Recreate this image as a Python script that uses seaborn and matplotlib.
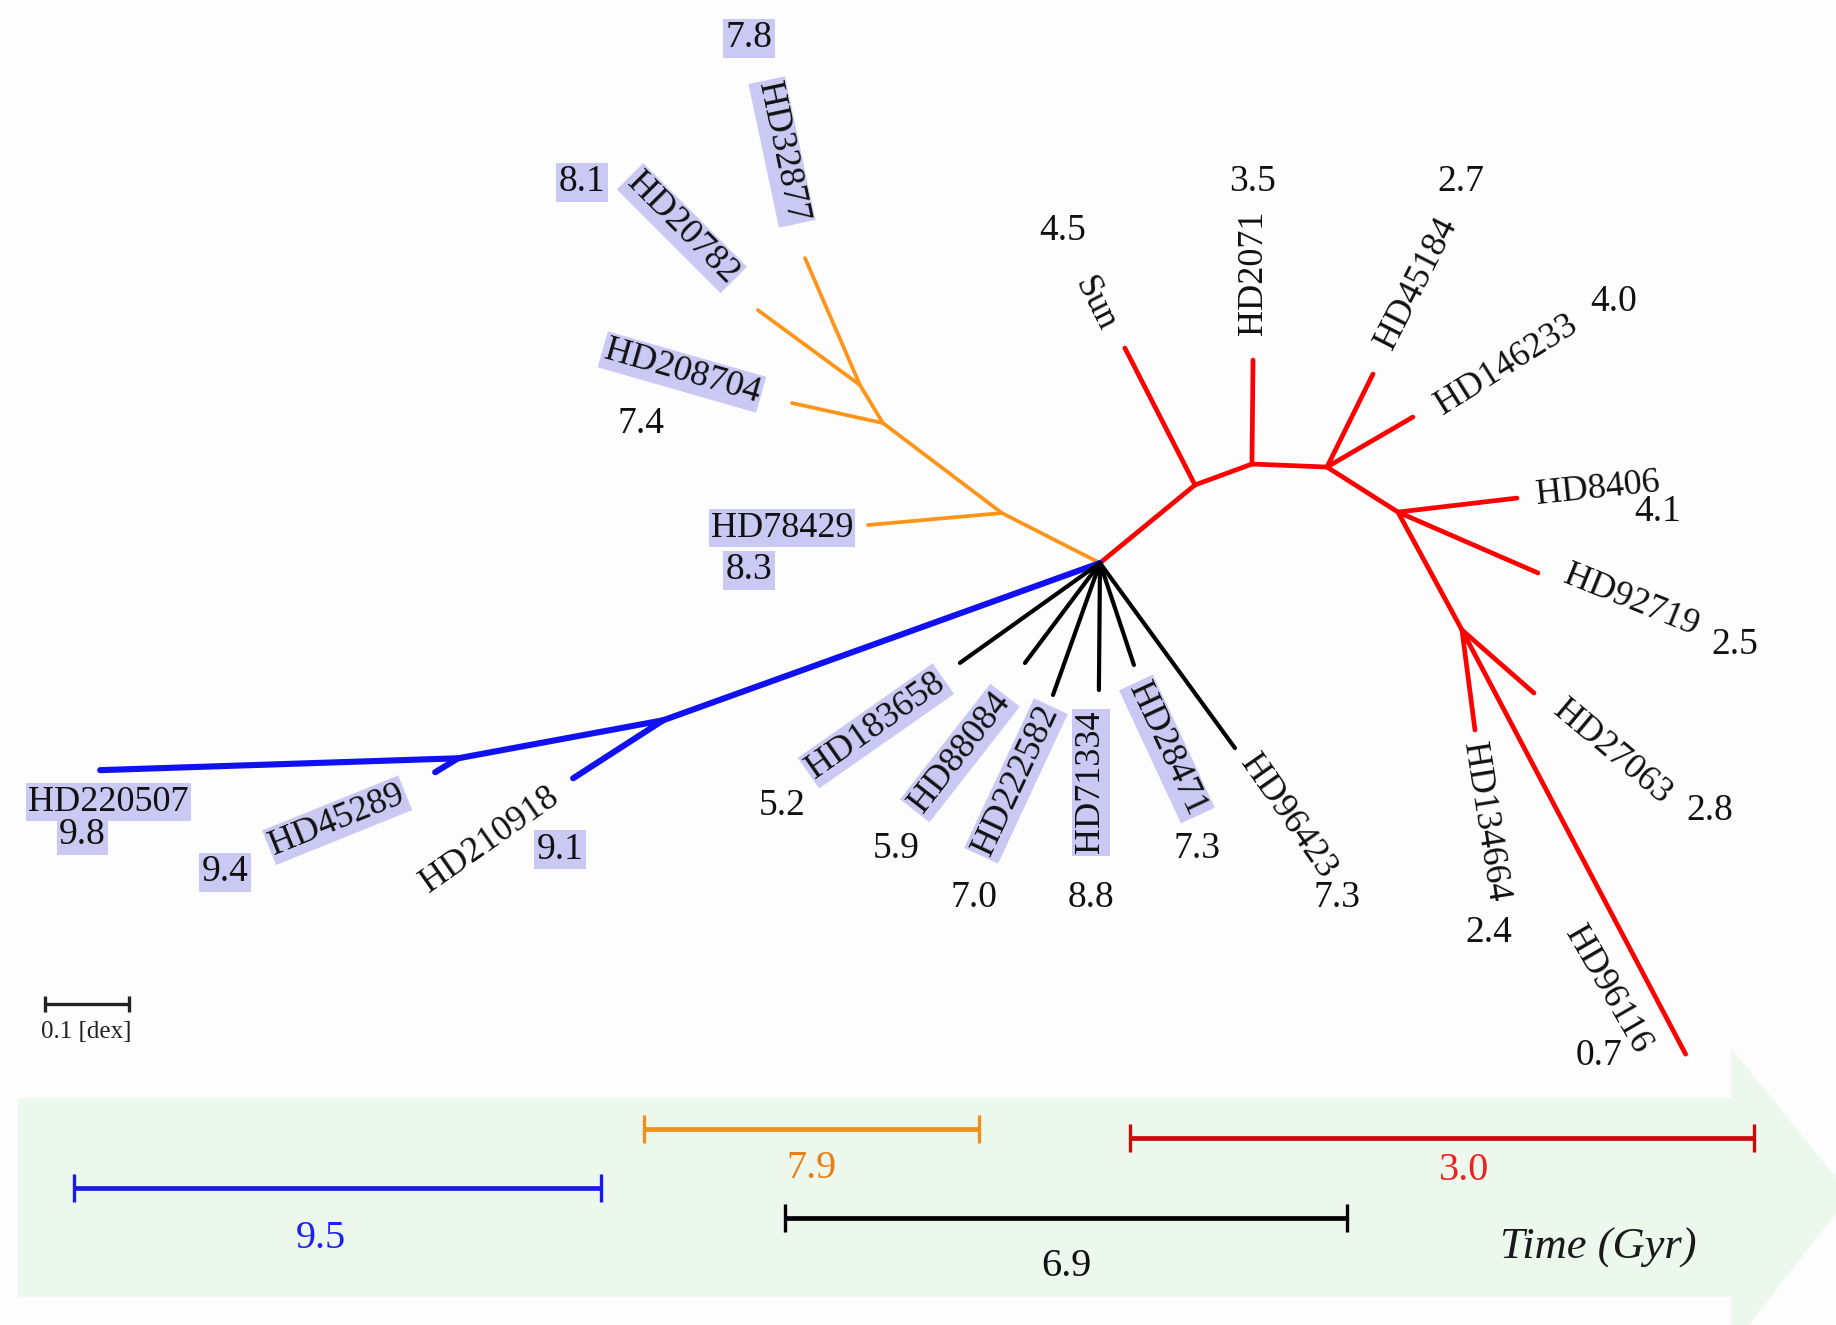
import numpy as np
import pandas as pd
import matplotlib
matplotlib.use("Agg")
import matplotlib.pyplot as plt
import seaborn as sns
from matplotlib.patches import Polygon

# ---------------------------------------------------------------------------
# Unrooted tree: each edge = parent, child, branch length [dex], direction [deg]
# ---------------------------------------------------------------------------
edge_parent = ["root", "o1", "o1", "o2", "o2", "o3", "o3",
               "root", "r1", "r1", "r2", "r2", "r3", "r3", "r3", "r4", "r4", "r4",
               "r5", "r5", "r5",
               "root", "b1", "b1", "b2", "b2",
               "root", "root", "root", "root", "root", "root"]
edge_child = ["o1", "HD78429", "o2", "HD208704", "o3", "HD20782", "HD32877",
              "r1", "Sun", "r2", "HD2071", "r3", "HD45184", "HD146233", "r4",
              "HD8406", "HD92719", "r5",
              "HD134664", "HD27063", "HD96116",
              "b1", "HD210918", "b2", "HD45289", "HD220507",
              "HD183658", "HD88084", "HD222582", "HD71334", "HD28471", "HD96423"]
edge_length = [0.1305, 0.1596, 0.1770, 0.1105, 0.0527, 0.1502, 0.1642,
               0.1458, 0.1825, 0.0720, 0.1234, 0.0891, 0.1231, 0.1180, 0.0997,
               0.1421, 0.1811, 0.1592,
               0.1196, 0.1135, 0.5688,
               0.5508, 0.1270, 0.2473, 0.0319, 0.4249,
               0.2041, 0.1483, 0.1662, 0.1507, 0.1275, 0.2717]
edge_angle = [153.0, -174.9, 142.9, 167.6, 121.2, 143.7, 113.4,
              39.4, 117.1, 20.2, 89.4, -2.3, 63.7, 30.2, -32.4,
              6.7, -23.5, -61.5,
              -82.6, -41.2, -62.2,
              -160.2, -147.2, -169.5, -148.7, -178.1,
              -144.5, -126.9, -109.6, -90.5, -71.6, -53.9]
edge_clade = (["old"] * 7 + ["young"] * 14 + ["oldest"] * 5 + ["mixed"] * 6)

# Leaves: stellar ages [Gyr]
leaf_names = ["HD32877", "HD20782", "HD208704", "HD78429",
              "Sun", "HD2071", "HD45184", "HD146233", "HD8406", "HD92719",
              "HD27063", "HD134664", "HD96116",
              "HD96423", "HD28471", "HD71334", "HD222582", "HD88084", "HD183658",
              "HD210918", "HD45289", "HD220507"]
leaf_ages = ["7.8", "8.1", "7.4", "8.3",
             "4.5", "3.5", "2.7", "4.0", "4.1", "2.5",
             "2.8", "2.4", "0.7",
             "7.3", "7.3", "8.8", "7.0", "5.9", "5.2",
             "9.1", "9.4", "9.8"]
name_marked = [True, True, True, True,
               False, False, False, False, False, False,
               False, False, False,
               False, True, True, True, True, True,
               False, True, True]
age_marked = [True, True, False, True,
              False, False, False, False, False, False,
              False, False, False,
              False, False, False, False, False, False,
              True, True, True]

# Mean age of each group along the time arrow
group_keys = ["oldest", "old", "young", "mixed"]
group_mean_age = ["9.5", "7.9", "3.0", "6.9"]
span_from = [74, 644, 1130, 785]
span_to = [601, 979, 1754, 1347]

# ---------------------------------------------------------------------------
# Layout / style
# ---------------------------------------------------------------------------
W, H = 1836, 1325
PX_PER_DEX = 843.0
ROOT_PX = (1100.0, 563.0)

clade_color = {"old": "#ff9418", "young": "#ff0000",
               "oldest": "#1010f0", "mixed": "#000000"}
clade_width = {"old": 2.7, "young": 3.4, "oldest": 4.4, "mixed": 3.0}
span_color = {"oldest": "#1a1aee", "old": "#f0901c",
              "young": "#cc0a0a", "mixed": "#000000"}
span_text_color = {"oldest": "#2020ee", "old": "#e8801a",
                   "young": "#ee2020", "mixed": "#111111"}
span_row = {"oldest": 1188, "old": 1129, "young": 1138, "mixed": 1218}
span_text_dx = {"oldest": -17, "old": 0, "young": 22, "mixed": 0}
span_text_dy = {"oldest": 50, "old": 40, "young": 32, "mixed": 49}

# name label: (dx, dy, rotation), age label: (dx, dy) relative to leaf tip [px]
label_layout = {
    "HD32877": (-23, -106, -78, -56, -220),
    "HD20782": (-76, -82, -45, -176, -128),
    "HD208704": (-110, -31, -16, -151, 21),
    "HD78429": (-86, 3, 0, -119, 45),
    "Sun": (-30, -44, -63, -62, -117),
    "HD2071": (0, -87, 90, 0, -178),
    "HD45184": (44, -90, 63, 88, -192),
    "HD146233": (94, -52, 32, 201, -115),
    "HD8406": (81, -9, 6, 141, 14),
    "HD92719": (93, 28, -22, 197, 72),
    "HD27063": (78, 59, -40, 176, 118),
    "HD134664": (10, 92, -81, 14, 203),
    "HD96116": (-78, -64, -60, -87, 2),
    "HD96423": (53, 68, -55, 102, 150),
    "HD28471": (33, 84, -65, 63, 184),
    "HD71334": (-8, 92, 90, -8, 208),
    "HD222582": (-37, 86, 65, -79, 203),
    "HD88084": (-65, 90, 52, -129, 186),
    "HD183658": (-84, 63, 35, -178, 143),
    "HD210918": (-83, 62, 35, -13, 71),
    "HD45289": (-98, 48, 22, -210, 100),
    "HD220507": (8, 32, 0, -18, 65),
}

sns.set_theme(style="white")
plt.rcParams["font.family"] = ["Liberation Serif", "DejaVu Serif"]

fig = plt.figure(figsize=(W / 100, H / 100), dpi=100)
fig.patch.set_facecolor("#fdfdfd")
ax = fig.add_axes([0, 0, 1, 1])
ax.set_facecolor("#fdfdfd")

# ---- time arrow in the background ----
arrow = Polygon([(18, 1098), (1731, 1098), (1731, 1048), (1850, 1195),
                 (1731, 1348), (1731, 1297), (18, 1297)],
                closed=True, facecolor="#edf8ec", edgecolor="none", zorder=0)
ax.add_patch(arrow)

# ---- node positions from branch lengths / angles ----
pos = {"root": (0.0, 0.0)}
for p, c, L, a in zip(edge_parent, edge_child, edge_length, edge_angle):
    x0, y0 = pos[p]
    t = np.deg2rad(a)
    pos[c] = (x0 + L * np.cos(t), y0 + L * np.sin(t))


def to_px(pt):
    return ROOT_PX[0] + pt[0] * PX_PER_DEX, ROOT_PX[1] - pt[1] * PX_PER_DEX


rows = []
for i, (p, c, cl) in enumerate(zip(edge_parent, edge_child, edge_clade)):
    for node in (p, c):
        x, y = to_px(pos[node])
        rows.append({"x": x, "y": y, "edge": i, "clade": cl})
edges = pd.DataFrame(rows)

sns.lineplot(data=edges, x="x", y="y", units="edge", estimator=None,
             hue="clade", palette=clade_color, size="clade", sizes=clade_width,
             sort=False, legend=False, ax=ax, zorder=3)
for line in ax.get_lines():
    line.set_solid_capstyle("round")

# ---- leaf labels ----
mark_box = dict(boxstyle="square,pad=0.06", facecolor="#c9c9f3", edgecolor="none")
for name, age, nm, am in zip(leaf_names, leaf_ages, name_marked, age_marked):
    tx, ty = to_px(pos[name])
    ndx, ndy, rot, adx, ady = label_layout[name]
    ax.text(tx + ndx, ty + ndy, name, fontsize=26, rotation=rot,
            rotation_mode="anchor", ha="center", va="center", color="#111111",
            bbox=mark_box if nm else None, zorder=4)
    ax.text(tx + adx, ty + ady, age, fontsize=27, ha="center", va="center",
            color="#111111", bbox=mark_box if am else None, zorder=4)

# ---- scale bar ----
sb_x0, sb_y = 44.5, 1003.5
ax.errorbar([sb_x0 + 0.05 * PX_PER_DEX], [sb_y], xerr=[0.05 * PX_PER_DEX],
            color="#222222", lw=2.4, capsize=6, capthick=2.4, zorder=4)
ax.text(sb_x0 + 0.05 * PX_PER_DEX, sb_y + 28, "0.1 [dex]", fontsize=18,
        ha="center", va="center", color="#222222")

# ---- group age spans on the time arrow ----
for key, lab, a, b in zip(group_keys, group_mean_age, span_from, span_to):
    mid = 0.5 * (a + b)
    yrow = span_row[key]
    ax.errorbar([mid], [yrow], xerr=[0.5 * (b - a)], color=span_color[key],
                lw=3.4, capsize=10, capthick=2.4, zorder=4)
    ax.text(mid + span_text_dx[key], yrow + span_text_dy[key], lab, fontsize=29,
            ha="center", va="center", color=span_text_color[key], zorder=4)

ax.text(1598, 1248, "Time (Gyr)", fontsize=32, style="italic",
        ha="center", va="center", color="#1a1a1a", zorder=4)

ax.set_xlim(0, W)
ax.set_ylim(H, 0)
ax.axis("off")

fig.savefig("out.png", dpi=100, facecolor=fig.get_facecolor())
